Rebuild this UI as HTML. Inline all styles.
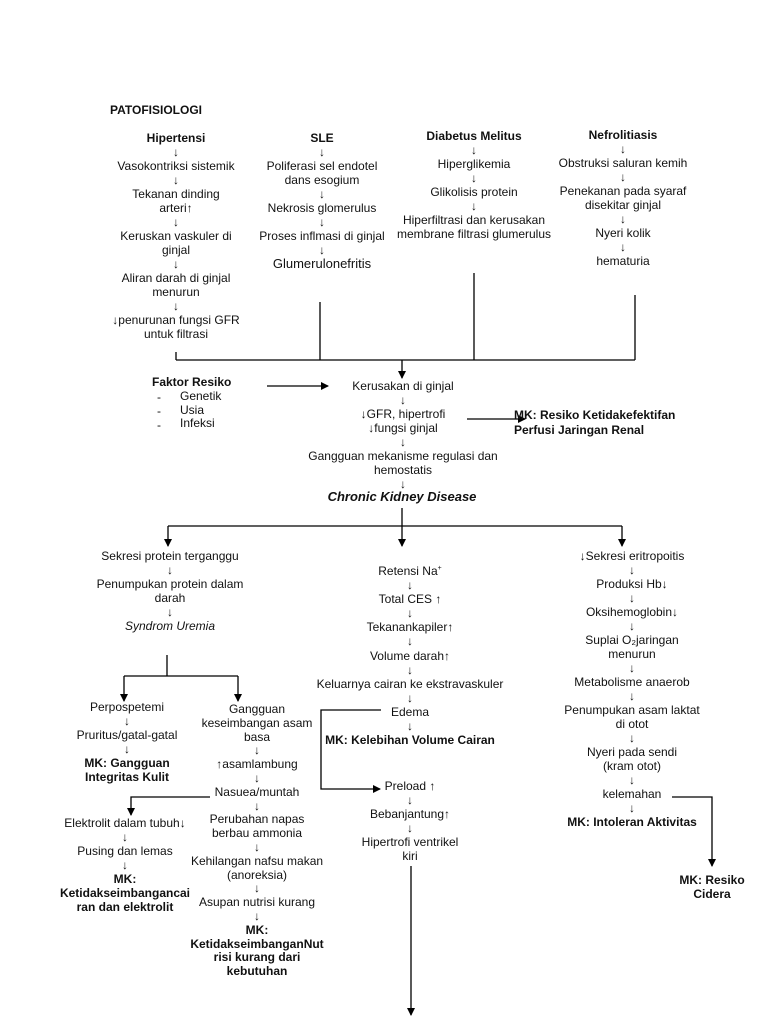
<!DOCTYPE html>
<html><head><meta charset="utf-8"><style>
body{margin:0;width:768px;height:1024px;background:#fff;position:relative;overflow:hidden;font-family:"Liberation Sans",sans-serif;font-size:12px;color:#111}
.c{position:absolute;transform:translateX(-50%);white-space:nowrap;line-height:14px}
.l{position:absolute;white-space:nowrap;line-height:14px}
b{font-weight:bold}
svg{position:absolute;left:0;top:0}
</style></head><body>
<svg width="768" height="1024">
<defs><marker id="a" markerWidth="8" markerHeight="8" refX="7" refY="4" orient="auto" markerUnits="userSpaceOnUse"><path d="M0,0 L8,4 L0,8z" fill="#000"/></marker></defs>
<g stroke="#000" stroke-width="1.3" fill="none">
<path d="M320,302 V360 M474,273 V360 M635,295 V360 M176,352 V360 M176,360 H635"/>
<path d="M402,360 V378" marker-end="url(#a)"/>
<path d="M267,386 H328" marker-end="url(#a)"/>
<path d="M467,419 H525" marker-end="url(#a)"/>
<path d="M402,508 V546" marker-end="url(#a)"/>
<path d="M168,526 H622"/>
<path d="M168,526 V546" marker-end="url(#a)"/>
<path d="M622,526 V546" marker-end="url(#a)"/>
<path d="M167,655 V676 M124,676 H238"/>
<path d="M124,676 V701" marker-end="url(#a)"/>
<path d="M238,676 V701" marker-end="url(#a)"/>
<path d="M210,797 H131 V815" marker-end="url(#a)"/>
<path d="M381,710 H321 V789 H380" marker-end="url(#a)"/>
<path d="M411,866 V1015" marker-end="url(#a)"/>
<path d="M672,797 H712 V866" marker-end="url(#a)"/>
</g></svg>

<div class="l" style="left:110px;top:103px"><b>PATOFISIOLOGI</b></div>

<div class="c" style="left:176px;top:131px;text-align:center"><b>Hipertensi</b><br>↓<br>Vasokontriksi sistemik<br>↓<br>Tekanan dinding<br>arteri↑<br>↓<br>Keruskan vaskuler di<br>ginjal<br>↓<br>Aliran darah di ginjal<br>menurun<br>↓<br>↓penurunan fungsi GFR<br>untuk filtrasi</div>

<div class="c" style="left:322px;top:131px;text-align:center"><b>SLE</b><br>↓<br>Poliferasi sel endotel<br>dans esogium<br>↓<br>Nekrosis glomerulus<br>↓<br>Proses inflmasi di ginjal<br>↓<br><span style="font-size:13px">Glumerulonefritis</span></div>

<div class="c" style="left:474px;top:129px;text-align:center"><b>Diabetus Melitus</b><br>↓<br>Hiperglikemia<br>↓<br>Glikolisis protein<br>↓<br>Hiperfiltrasi dan kerusakan<br>membrane filtrasi glumerulus</div>

<div class="c" style="left:623px;top:128px;text-align:center"><b>Nefrolitiasis</b><br>↓<br>Obstruksi saluran kemih<br>↓<br>Penekanan pada syaraf<br>disekitar ginjal<br>↓<br>Nyeri kolik<br>↓<br>hematuria</div>

<div class="l" style="left:152px;top:375px"><b>Faktor Resiko</b></div>
<div class="l" style="left:157px;top:390px">-<br>-<br>-</div>
<div class="l" style="left:180px;top:390px;line-height:13.5px">Genetik<br>Usia<br>Infeksi</div>

<div class="c" style="left:403px;top:379px;text-align:center">Kerusakan di ginjal<br>↓<br>↓GFR, hipertrofi<br>↓fungsi ginjal<br>↓<br>Gangguan mekanisme regulasi dan<br>hemostatis<br>↓</div>
<div class="l" style="left:514px;top:408px;line-height:15px"><b>MK: Resiko Ketidakefektifan<br>Perfusi Jaringan Renal</b></div>
<div class="c" style="left:402px;top:490px;font-size:13px"><b><i>Chronic Kidney Disease</i></b></div>

<div class="c" style="left:170px;top:549px;text-align:center">Sekresi protein terganggu<br>↓<br>Penumpukan protein dalam<br>darah<br>↓<br><i>Syndrom Uremia</i></div>

<div class="c" style="left:127px;top:700px;text-align:center">Perpospetemi<br>↓<br>Pruritus/gatal-gatal<br>↓<br><b>MK: Gangguan<br>Integritas Kulit</b></div>

<div class="c" style="left:257px;top:703px;text-align:center;line-height:13.8px">Gangguan<br>keseimbangan asam<br>basa<br>↓<br>↑asamlambung<br>↓<br>Nasuea/muntah<br>↓<br>Perubahan napas<br>berbau ammonia<br>↓<br>Kehilangan nafsu makan<br>(anoreksia)<br>↓<br>Asupan nutrisi kurang<br>↓<br><b>MK:<br>KetidakseimbanganNut<br>risi kurang dari<br>kebutuhan</b></div>

<div class="c" style="left:125px;top:816px;text-align:center">Elektrolit dalam tubuh↓<br>↓<br>Pusing dan lemas<br>↓<br><b>MK:<br>Ketidakseimbangancai<br>ran dan elektrolit</b></div>

<div class="c" style="left:410px;top:562px;text-align:center;line-height:14.1px">Retensi Na<sup style="font-size:7px">+</sup><br>↓<br>Total CES ↑<br>↓<br>Tekanankapiler↑<br>↓<br>Volume darah↑<br>↓<br>Keluarnya cairan ke ekstravaskuler<br>↓<br>Edema<br>↓<br><b>MK: Kelebihan Volume Cairan</b></div>

<div class="c" style="left:410px;top:779px;text-align:center">Preload ↑<br>↓<br>Bebanjantung↑<br>↓<br>Hipertrofi ventrikel<br>kiri</div>

<div class="c" style="left:632px;top:549px;text-align:center;line-height:14px">↓Sekresi eritropoitis<br>↓<br>Produksi Hb↓<br>↓<br>Oksihemoglobin↓<br>↓<br>Suplai O₂jaringan<br>menurun<br>↓<br>Metabolisme anaerob<br>↓<br>Penumpukan asam laktat<br>di otot<br>↓<br>Nyeri pada sendi<br>(kram otot)<br>↓<br>kelemahan<br>↓<br><b>MK: Intoleran Aktivitas</b></div>

<div class="c" style="left:712px;top:873px;text-align:center"><b>MK: Resiko<br>Cidera</b></div>
</body></html>
